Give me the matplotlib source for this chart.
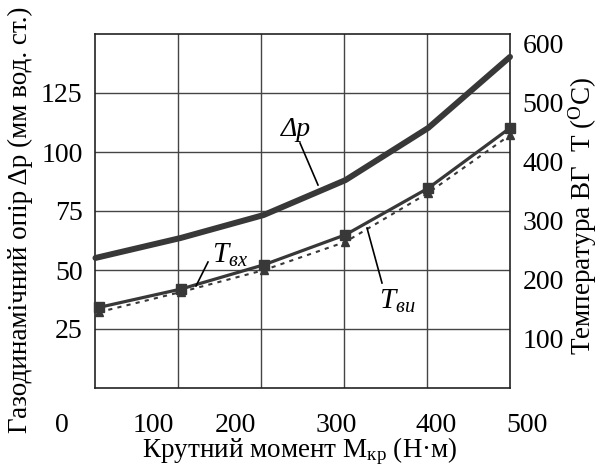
import matplotlib.pyplot as plt
import matplotlib.transforms as mtransforms
import numpy as np

plt.rcParams['font.family'] = ['Liberation Serif', 'DejaVu Serif']
plt.rcParams['mathtext.fontset'] = 'custom'
plt.rcParams['mathtext.rm'] = 'Liberation Serif'
plt.rcParams['mathtext.it'] = 'Liberation Serif:italic'

# torque, N*m
torque_dp = [36, 128, 217, 305, 394, 482]
torque_t = [40, 128, 217, 305, 394, 482]
# gas-dynamic resistance, mm w.c.
dp = [55.1, 63.6, 73.3, 88.1, 110.2, 140.3]
# exhaust temperatures, deg C
t_sq = [152, 183, 224, 275, 354, 456]
t_tri = [144, 178, 215, 263, 346, 444]

left_ticks = [25, 50, 75, 100, 125]
right_ticks = [100, 200, 300, 400, 500, 600]
x_labels = ['0', '100', '200', '300', '400', '500']
x_label_pos = [0, 98, 187, 295, 403, 500]

W, H = 601, 474
fig = plt.figure(figsize=(W / 100, H / 100), dpi=100)
ax = fig.add_axes([95 / W, (H - 388) / H, (510 - 95) / W, (388 - 34) / H])
ax.set_xlim(35.5, 482)
ax.set_ylim(0, 150)

col = '#383838'
for gx in np.linspace(35.5, 482, 6)[1:-1]:
    ax.axvline(gx, color='#444444', lw=1.0, zorder=1)
for gy in [25, 50, 75, 100, 125]:
    ax.axhline(gy, color='#444444', lw=1.0, zorder=1)
for s in ax.spines.values():
    s.set_linewidth(1.2)
    s.set_color('#222222')

ax.set_xticks([])
ax.set_yticks(left_ticks)
ax.tick_params(axis='y', length=0, pad=9, labelsize=20)

ax.plot(torque_dp, dp, color=col, lw=4.3, solid_capstyle='round', zorder=4, clip_on=False)

ax2 = ax.twinx()
ax2.set_ylim(15.3, 615.3)
ax2.set_yticks(right_ticks)
ax2.tick_params(axis='y', length=0, pad=9, labelsize=20)
for s in ax2.spines.values():
    s.set_visible(False)
ax2.plot(torque_t, t_tri, color=col, lw=1.5, ls=(0, (2, 2.5)), marker='^',
         ms=6, zorder=3, clip_on=False)
ax2.plot(torque_t, t_sq, color=col, lw=2.3, marker='s', ms=7.5, zorder=4, clip_on=False)

# x tick labels sit outside the frame
trans = mtransforms.blended_transform_factory(ax.transData, fig.transFigure)
for xp, lab in zip(x_label_pos, x_labels):
    ax.text(xp, (H - 425) / H, lab, transform=trans, ha='center', va='center',
            fontsize=20, clip_on=False)


def fx(px):
    return px / W


def fy(py):
    return (H - py) / H


# curve labels with leader lines
fig.text(fx(281), fy(129), 'Δp', fontsize=20, style='italic', va='center', ha='left')
fig.add_artist(plt.Line2D([fx(300), fx(318)], [fy(143), fy(185)], color='black', lw=1.2))
fig.text(fx(212), fy(255), r'$T_{вх}$', fontsize=21, va='center', ha='left')
fig.add_artist(plt.Line2D([fx(208), fx(196)], [fy(262), fy(286)], color='black', lw=1.2))
fig.text(fx(379), fy(301), r'$T_{ви}$', fontsize=21, va='center', ha='left')
fig.add_artist(plt.Line2D([fx(367), fx(382)], [fy(228), fy(283)], color='black', lw=1.2))

fig.text(fx(300), fy(451), r'Крутний момент M$_{\mathrm{кр}}$ (Н·м)', fontsize=19.5,
         ha='center', va='center')
fig.text(fx(20), fy(220), 'Газодинамічний опір Δp (мм вод. ст.)', fontsize=19.5,
         rotation=90, ha='center', va='center')
fig.text(fx(583), fy(216), r'Температура ВГ  Т ($^{\mathrm{O}}$C)', fontsize=19.5,
         rotation=90, ha='center', va='center')

fig.savefig('out.png', dpi=100)
